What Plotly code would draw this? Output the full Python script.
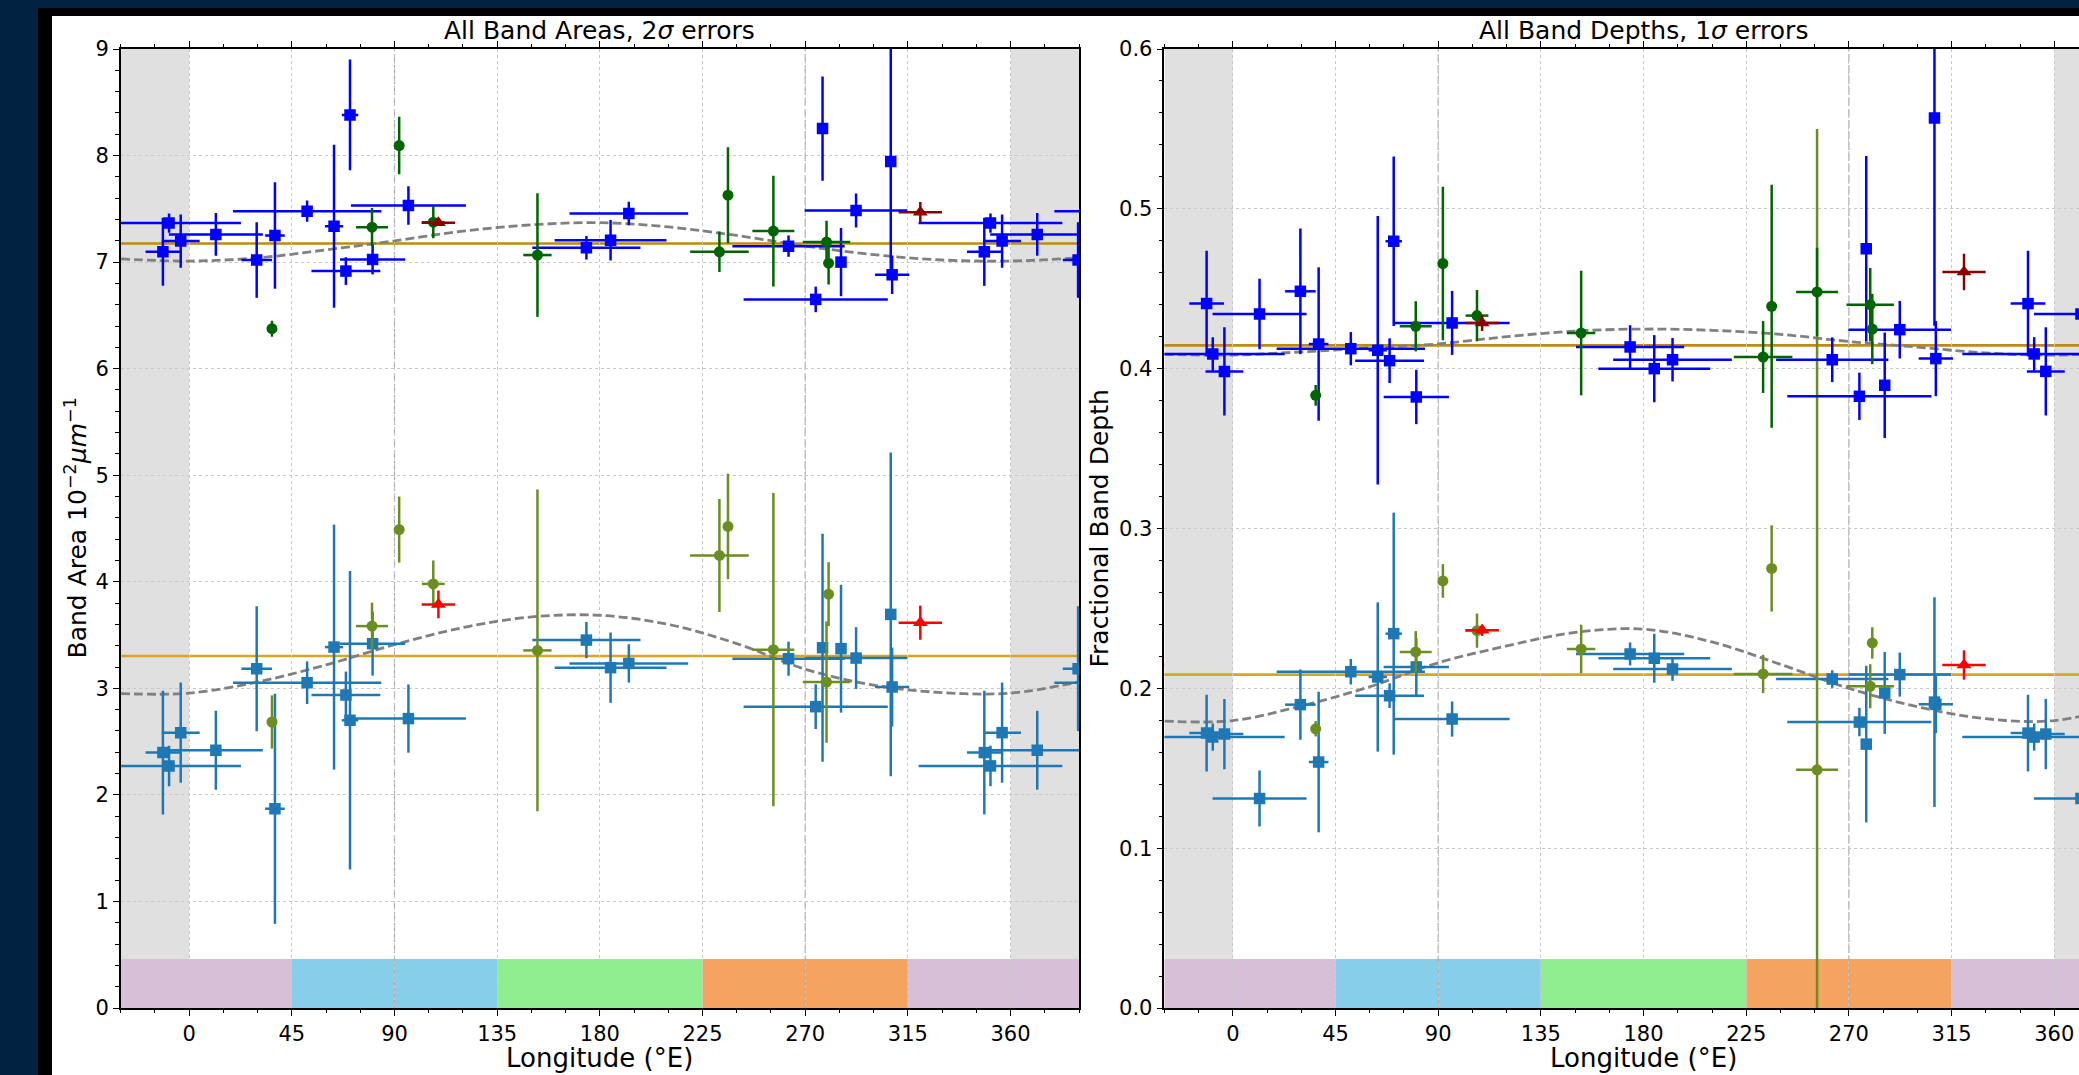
import numpy as np
import plotly.graph_objects as go

W, H = 2079, 1075

# ---------------- data (longitude in deg E, 0-360) ----------------
# square markers (two observing sets share longitudes)
lon_sq = [348.5, 351.2, 356.3, 11.7, 29.6, 37.6, 51.7, 63.5, 68.7, 70.5, 80.4, 96.1,
          174.1, 184.7, 192.7, 262.7, 274.6, 277.6, 285.7, 292.3, 307.5, 308.1]
lonerr_sq = [7.6, 31.5, 8.3, 20.6, 6.7, 4.3, 32.5, 4.0, 15.1, 3.6, 14.3, 25.2,
             23.7, 24.5, 26.0, 24.6, 31.6, 1.0, 1.0, 22.5, 1.0, 7.5]

# circle markers
lon_ci = [36.3, 80.15, 92.05, 107.0, 152.65, 232.4, 236.15, 256.05, 279.35, 280.25]
lonerr_ci = [2.0, 7.0, 1.0, 5.0, 6.2, 12.85, 1.0, 9.2, 10.4, 1.0]

# triangle markers
lon_tr = [109.25, 320.45]
lonerr_tr = [7.35, 9.5]

# ---- Band areas (10^-2 um^-1), 2 sigma ----
area_up_sq = [7.097, 7.366, 7.197, 7.26, 7.02, 7.25, 7.478, 7.337, 6.916, 8.381, 7.025, 7.531,
              7.134, 7.206, 7.456, 7.15, 6.65, 8.253, 7.0, 7.484, 7.944, 6.881]
area_up_sq_err = [0.32, 0.09, 0.25, 0.2, 0.355, 0.5, 0.1, 0.765, 0.13, 0.52, 0.14, 0.18,
                  0.11, 0.19, 0.11, 0.1, 0.12, 0.49, 0.32, 0.16, 1.1, 0.18]
area_lo_sq = [2.397, 2.272, 2.584, 2.419, 3.184, 1.87, 3.053, 3.387, 2.9375, 2.70, 3.419, 2.716,
              3.453, 3.194, 3.234, 3.278, 2.828, 3.381, 3.372, 3.284, 3.694, 3.0125]
area_lo_sq_err = [0.58, 0.19, 0.47, 0.37, 0.586, 1.08, 0.2, 1.15, 0.22, 1.4, 0.3, 0.32,
                  0.17, 0.33, 0.18, 0.16, 0.21, 1.07, 0.6, 0.29, 1.52, 0.37]
area_up_ci = [6.375, 7.328, 8.094, 7.375, 7.066, 7.097, 7.628, 7.291, 7.188, 6.99]
area_up_ci_err = [0.075, 0.18, 0.27, 0.15, 0.58, 0.19, 0.45, 0.52, 0.2, 0.2]
area_lo_ci = [2.684, 3.584, 4.49, 3.98, 3.356, 4.247, 4.519, 3.3625, 3.059, 3.884]
area_lo_ci_err = [0.25, 0.22, 0.31, 0.22, 1.51, 0.53, 0.495, 1.47, 0.57, 0.3]
area_up_tr = [7.369, 7.469]
area_up_tr_err = [0.03, 0.095]
area_lo_tr = [3.7875, 3.616]
area_lo_tr_err = [0.13, 0.16]
area_mean = [7.175, 3.303]

# ---- Fractional band depths, 1 sigma ----
depth_up_sq = [0.4407, 0.4092, 0.3983, 0.4342, 0.4484, 0.4154, 0.4125, 0.4115, 0.405, 0.4797, 0.3823, 0.4286,
               0.4136, 0.400, 0.4056, 0.4056, 0.3827, 0.475, 0.3896, 0.4244, 0.5568, 0.4063]
depth_up_sq_err = [0.033, 0.0105, 0.0276, 0.022, 0.0393, 0.048, 0.0104, 0.084, 0.014, 0.053, 0.017, 0.02,
                   0.0136, 0.021, 0.0136, 0.014, 0.0148, 0.058, 0.033, 0.018, 0.13, 0.0235]
depth_lo_sq = [0.172, 0.1695, 0.1714, 0.1311, 0.1898, 0.1539, 0.2104, 0.2071, 0.1954, 0.2342, 0.2134, 0.1808,
               0.2215, 0.2188, 0.2121, 0.2058, 0.1789, 0.1651, 0.1971, 0.2086, 0.1914, 0.190]
depth_lo_sq_err = [0.024, 0.0085, 0.022, 0.0175, 0.022, 0.044, 0.008, 0.0467, 0.0077, 0.0757, 0.018, 0.011,
                   0.0072, 0.0153, 0.0074, 0.0055, 0.0089, 0.049, 0.0256, 0.0138, 0.0656, 0.018]
depth_up_ci = [0.3833, 0.4265, 0.4658, 0.4332, 0.4223, 0.4073, 0.439, 0.448, 0.44, 0.4248]
depth_up_ci_err = [0.0065, 0.0157, 0.048, 0.016, 0.039, 0.0225, 0.076, 0.0277, 0.023, 0.022]
depth_lo_ci = [0.1747, 0.2228, 0.2672, 0.2361, 0.2246, 0.209, 0.275, 0.149, 0.2013, 0.2284]
depth_lo_ci_err = [0.0048, 0.013, 0.0105, 0.0107, 0.0152, 0.012, 0.027, 0.401, 0.0138, 0.0098]
depth_up_tr = [0.4286, 0.4605]
depth_up_tr_err = [0.005, 0.0114]
depth_lo_tr = [0.2363, 0.2146]
depth_lo_tr_err = [0.0035, 0.0092]
depth_mean = [0.4146, 0.2086]

# ---- dashed model curves, read at 30 deg steps ----
curve_lon = [-30, 0, 30, 60, 90, 120, 150, 180, 210, 240, 270, 300, 330, 360, 390]
area_curve_up = [7.03, 7.01, 7.04, 7.115, 7.20, 7.29, 7.35, 7.37, 7.33, 7.25, 7.15, 7.07, 7.02, 7.01, 7.04]
area_curve_lo = [2.95, 2.955, 3.06, 3.22, 3.41, 3.57, 3.67, 3.685, 3.60, 3.42, 3.18, 3.03, 2.96, 2.955, 3.06]
depth_curve_up = [0.409, 0.4085, 0.4105, 0.413, 0.4155, 0.420, 0.4235, 0.4248, 0.424, 0.4215, 0.417, 0.4135,
                  0.4098, 0.4085, 0.4105]
depth_curve_lo = [0.1795, 0.1798, 0.189, 0.201, 0.216, 0.2265, 0.235, 0.237, 0.229, 0.215, 0.200, 0.1885,
                  0.181, 0.1798, 0.189]

# longitude bands at the bottom
band_edges = [-30, 45, 135, 225, 315, 390]
band_colors = ['#d8bfd8', '#87ceeb', '#90ee90', '#f4a460', '#d8bfd8']

x_ticks = [0, 45, 90, 135, 180, 225, 270, 315, 360]

# ---------------- styles ----------------
C_BLUE, C_STEEL = '#0000ff', '#1f77b4'
C_DGREEN, C_OLIVE = '#006400', '#6b8e23'
C_DRED, C_RED = '#8b0000', '#ff0000'
FONT = 'DejaVu Sans'
SQ, CI, TR = 11.5, 11, 13

L_X0, L_X1 = 120.7, 1079.0
R_X0 = 1164.4
Y_TOP, Y_BOT = 49.0, 1008.0
deg_px = (L_X1 - L_X0) / 420.0
R_XMAX = -30 + (W - R_X0) / deg_px


def pxx(x):
    return x / W


def pxy(y):
    return 1 - y / H


fig = go.Figure()


def wrap(lon, lonerr, val, valerr):
    lon = np.asarray(lon, float)
    xs = np.concatenate([lon - 360, lon, lon + 360])
    return xs, np.tile(lonerr, 3), np.tile(val, 3), np.tile(valerr, 3)


def add_err(lon, lonerr, val, valerr, color, symbol, size, xa, ya):
    xs, xe, ys, ye = wrap(lon, lonerr, val, valerr)
    fig.add_trace(go.Scatter(
        x=xs, y=ys, mode='markers', xaxis=xa, yaxis=ya,
        marker=dict(color=color, symbol=symbol, size=size, line=dict(width=0)),
        error_x=dict(type='data', array=xe, color=color, thickness=2.5, width=0),
        error_y=dict(type='data', array=ye, color=color, thickness=2.5, width=0),
        hoverinfo='skip'))


def add_curve(yvals, xa, ya):
    fig.add_trace(go.Scatter(x=curve_lon, y=yvals, mode='lines', xaxis=xa, yaxis=ya,
                             line=dict(color='#808080', width=2.8, dash='9px,4px', shape='spline'),
                             hoverinfo='skip'))


panels = [
    ('x', 'y', area_curve_up, area_curve_lo,
     [(area_lo_sq, area_lo_sq_err, lon_sq, lonerr_sq, C_STEEL, 'square', SQ),
      (area_lo_ci, area_lo_ci_err, lon_ci, lonerr_ci, C_OLIVE, 'circle', CI),
      (area_lo_tr, area_lo_tr_err, lon_tr, lonerr_tr, C_RED, 'triangle-up', TR),
      (area_up_sq, area_up_sq_err, lon_sq, lonerr_sq, C_BLUE, 'square', SQ),
      (area_up_ci, area_up_ci_err, lon_ci, lonerr_ci, C_DGREEN, 'circle', CI),
      (area_up_tr, area_up_tr_err, lon_tr, lonerr_tr, C_DRED, 'triangle-up', TR)],
     area_mean),
    ('x2', 'y2', depth_curve_up, depth_curve_lo,
     [(depth_lo_sq, depth_lo_sq_err, lon_sq, lonerr_sq, C_STEEL, 'square', SQ),
      (depth_lo_ci, depth_lo_ci_err, lon_ci, lonerr_ci, C_OLIVE, 'circle', CI),
      (depth_lo_tr, depth_lo_tr_err, lon_tr, lonerr_tr, C_RED, 'triangle-up', TR),
      (depth_up_sq, depth_up_sq_err, lon_sq, lonerr_sq, C_BLUE, 'square', SQ),
      (depth_up_ci, depth_up_ci_err, lon_ci, lonerr_ci, C_DGREEN, 'circle', CI),
      (depth_up_tr, depth_up_tr_err, lon_tr, lonerr_tr, C_DRED, 'triangle-up', TR)],
     depth_mean),
]

shapes = []
# frame of the screenshot
shapes.append(dict(type='rect', xref='paper', yref='paper', x0=pxx(38), x1=1.0, y0=0, y1=pxy(8),
                   fillcolor='black', line=dict(width=0), layer='below'))
shapes.append(dict(type='rect', xref='paper', yref='paper', x0=pxx(52), x1=1.0, y0=0, y1=pxy(16),
                   fillcolor='white', line=dict(width=0), layer='below'))

for xa, ya, cu, cl, series, means in panels:
    xd = xa + ' domain'
    yd = ya + ' domain'
    # grey wrap-around regions
    for a, b in [(-30, 0), (360, 390)]:
        shapes.append(dict(type='rect', xref=xa, yref=yd, x0=a, x1=b, y0=0, y1=1,
                           fillcolor='#e0e0e0', line=dict(width=0), layer='below'))
    # longitude bands
    for i, col in enumerate(band_colors):
        shapes.append(dict(type='rect', xref=xa, yref=yd, x0=band_edges[i], x1=band_edges[i + 1],
                           y0=0, y1=0.051, fillcolor=col, line=dict(width=0), layer='below'))
    # dashed verticals at 90 and 270
    for v in (90, 270):
        shapes.append(dict(type='line', xref=xa, yref=yd, x0=v, x1=v, y0=0, y1=1,
                           line=dict(color='#aaaaaa', width=1.2, dash='8px,3px'), layer='below'))
    # mean lines
    shapes.append(dict(type='line', xref=xd, yref=ya, x0=0, x1=1, y0=means[0], y1=means[0],
                       line=dict(color='#c08a12', width=2.6), layer='below'))
    shapes.append(dict(type='line', xref=xd, yref=ya, x0=0, x1=1, y0=means[1], y1=means[1],
                       line=dict(color='#daa520', width=2.6), layer='below'))
    add_curve(cu, xa, ya)
    add_curve(cl, xa, ya)
    for val, verr, lon, lerr, col, sym, sz in series:
        add_err(lon, lerr, val, verr, col, sym, sz, xa, ya)

tickfont = dict(family=FONT, size=21, color='black')
common = dict(showline=True, linecolor='black', linewidth=1.5, ticks='outside', ticklen=6,
              tickwidth=1.2, tickcolor='black', tickfont=tickfont, showgrid=True,
              gridcolor='#c8c8c8', gridwidth=1, griddash='dot', zeroline=False, automargin=False)
xminor = dict(tickmode='linear', tick0=0, dtick=15, ticklen=3.5, tickwidth=1, tickcolor='black',
              ticks='outside', showgrid=False)

fig.update_layout(
    width=W, height=H, margin=dict(l=0, r=0, t=0, b=0),
    paper_bgcolor='#012240', plot_bgcolor='white', showlegend=False,
    xaxis=dict(domain=[pxx(L_X0), pxx(L_X1)], range=[-30, 390], tickmode='array', tickvals=x_ticks,
               mirror='ticks', minor=xminor, anchor='y', **common),
    yaxis=dict(domain=[pxy(Y_BOT), pxy(Y_TOP)], range=[0, 9], tick0=0, dtick=1, mirror=True,
               minor=dict(tickmode='linear', tick0=0, dtick=0.2, ticklen=3.5, tickwidth=1,
                          tickcolor='black', ticks='outside', showgrid=False),
               anchor='x', **common),
    xaxis2=dict(domain=[pxx(R_X0), 1.0], range=[-30, R_XMAX], tickmode='array', tickvals=x_ticks,
                mirror='ticks', minor=xminor, anchor='y2', **common),
    yaxis2=dict(domain=[pxy(Y_BOT), pxy(Y_TOP)], range=[0, 0.6], tick0=0, dtick=0.1, tickformat='.1f',
                mirror=False,
                minor=dict(tickmode='linear', tick0=0, dtick=0.02, ticklen=3.5, tickwidth=1,
                           tickcolor='black', ticks='outside', showgrid=False),
                anchor='x2', **common),
    shapes=shapes,
)

L_C = (L_X0 + L_X1) / 2
R_C = R_X0 + (L_X1 - L_X0) / 2
ann = [
    dict(text='All Band Areas, 2<i>σ</i> errors', x=pxx(L_C), y=pxy(30), size=25, angle=0),
    dict(text='All Band Depths, 1<i>σ</i> errors', x=pxx(R_C), y=pxy(30), size=25, angle=0),
    dict(text='Longitude (°E)', x=pxx(L_C), y=pxy(1058), size=26, angle=0),
    dict(text='Longitude (°E)', x=pxx(R_C), y=pxy(1058), size=26, angle=0),
    dict(text='Band Area 10<sup>−2</sup><i>μm</i><sup>−1</sup>', x=pxx(76), y=pxy(528.5), size=25, angle=-90),
    dict(text='Fractional Band Depth', x=pxx(1099), y=pxy(528.5), size=25, angle=-90),
]
for a in ann:
    fig.add_annotation(text=a['text'], x=a['x'], y=a['y'], xref='paper', yref='paper',
                       xanchor='center', yanchor='middle', showarrow=False, textangle=a['angle'],
                       font=dict(family=FONT, size=a['size'], color='black'))

fig.write_html("out.html", config={'displayModeBar': False, 'responsive': False},
               post_script="document.body.style.margin='0';document.body.style.overflow='hidden';")
